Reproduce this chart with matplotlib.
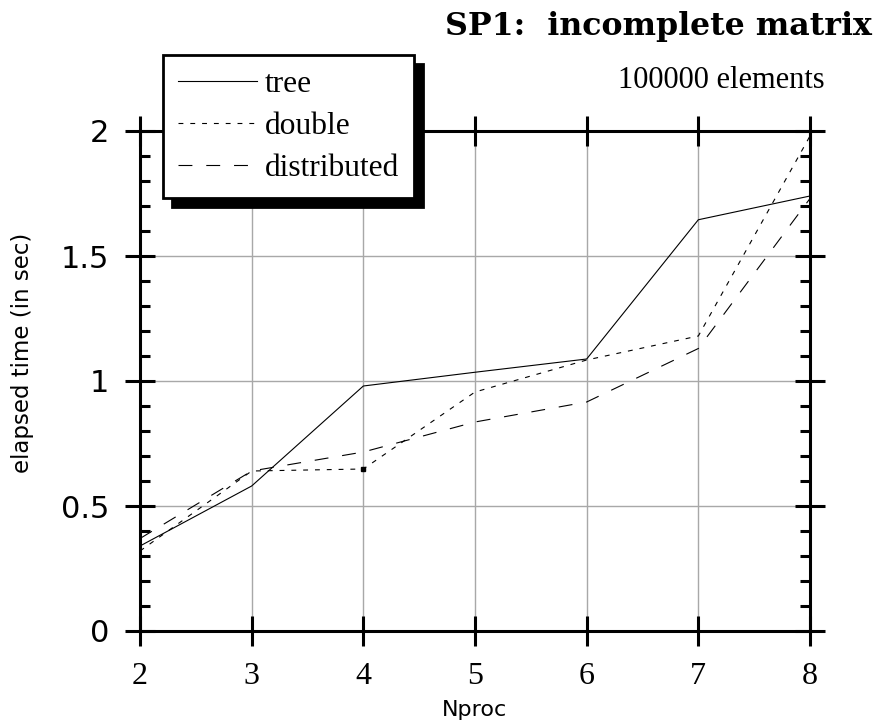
import matplotlib
matplotlib.use("Agg")
import matplotlib.pyplot as plt
from matplotlib.ticker import MultipleLocator

nproc = [2, 3, 4, 5, 6, 7, 8]
tree = [0.34, 0.58, 0.98, 1.035, 1.088, 1.645, 1.74]
double = [0.32, 0.64, 0.648, 0.956, 1.084, 1.18, 1.98]
distributed = [0.37, 0.64, 0.716, 0.836, 0.916, 1.13, 1.73]

title = "SP1:  incomplete matrix"
subtitle = "100000 elements"
xlabel = "Nproc"
ylabel = "elapsed time (in sec)"

plt.rcParams['lines.scale_dashes'] = False
SERIF = ['Liberation Serif', 'DejaVu Serif']
SANS = ['DejaVu Sans']

fig = plt.figure(figsize=(8.77, 7.21), dpi=100)
W, H = 877, 721
L, R, T, B = 140, 810, 131, 631
ax = fig.add_axes([L / W, 1 - B / H, (R - L) / W, (B - T) / H])

ax.plot(nproc, tree, color='black', lw=0.8, label='tree')
ax.plot(nproc, double, color='black', lw=0.8, dashes=(3.5, 5), label='double',
        marker='s', markersize=2.5, markevery=[2])
ax.plot(nproc, distributed, color='black', lw=0.8, dashes=(10, 10), label='distributed')

ax.set_xlim(2, 8)
ax.set_ylim(0, 2)
ax.xaxis.set_major_locator(MultipleLocator(1))
ax.yaxis.set_major_locator(MultipleLocator(0.5))
ax.yaxis.set_minor_locator(MultipleLocator(0.1))
ax.grid(True, which='major', color='#a8a8a8', lw=1.0)
ax.set_axisbelow(True)

for s in ax.spines.values():
    s.set_linewidth(2.2)
    s.set_color('black')

ax.tick_params(axis='both', which='major', direction='inout', length=22, width=2.2,
               top=True, right=True, color='black')
ax.tick_params(axis='y', which='minor', direction='in', length=7, width=2.2,
               left=True, right=True)
ax.tick_params(axis='x', which='major', pad=11)
ax.tick_params(axis='y', which='major', pad=11)

ax.set_xticks(nproc)
ax.set_xticklabels([str(v) for v in nproc], fontfamily=SERIF, fontsize=23)
yt = [0, 0.5, 1, 1.5, 2]
ax.set_yticks(yt)
ax.set_yticklabels(['0', '0.5', '1', '1.5', '2'], fontfamily=SANS, fontsize=22)

fig.text(23 / W, 1 - 353 / H, ylabel, rotation=90, ha='center', va='center',
         fontfamily=SANS, fontsize=16.5)
fig.text(475 / W, 1 - 716 / H, xlabel, ha='center', va='baseline',
         fontfamily=SANS, fontsize=16)
fig.text(872 / W, 1 - 35 / H, title, ha='right', va='baseline',
         fontfamily=['DejaVu Serif'], fontsize=22.8, fontweight='bold')
fig.text(825 / W, 1 - 88 / H, subtitle, ha='right', va='baseline',
         fontfamily=SERIF, fontsize=22)

leg = ax.legend(loc='upper left', bbox_to_anchor=(163 / W, 1 - 55 / H),
                bbox_transform=fig.transFigure, borderaxespad=0,
                prop={'family': SERIF, 'size': 22.7}, fancybox=False,
                frameon=True, framealpha=1, edgecolor='black',
                shadow={'color': 'black', 'alpha': 1, 'ox': 6.5, 'oy': -6.5},
                handlelength=2.5, handletextpad=0.25, labelspacing=0.4,
                borderpad=0.48)
leg.get_frame().set_linewidth(2.0)
for h in leg.legend_handles:
    h.set_marker('')
leg.set_zorder(10)

fig.savefig('out.png', dpi=100)
